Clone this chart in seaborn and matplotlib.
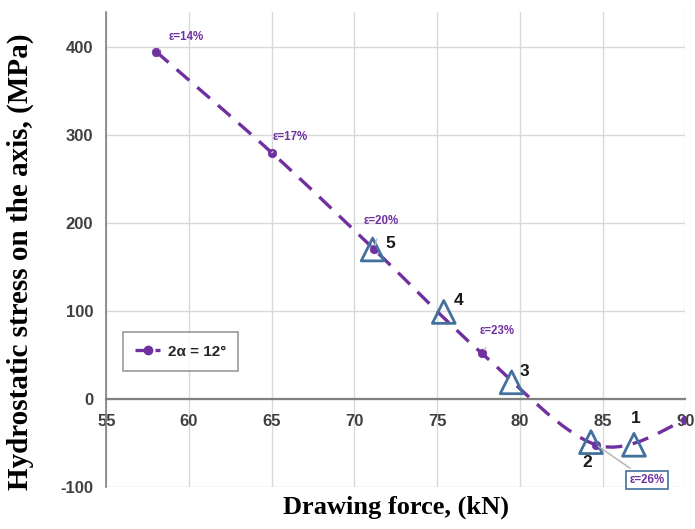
import numpy as np
import matplotlib
matplotlib.use("Agg")
import matplotlib.pyplot as plt
import seaborn as sns
import pandas as pd
from matplotlib.path import Path
from matplotlib.patches import PathPatch
from matplotlib.lines import Line2D

# ---- data ----
force = [58.0, 65.0, 71.2, 77.7, 84.6, 90.0]
stress = [395, 280, 170, 52, -52, -24]
eps_labels = ["ε=14%", "ε=17%", "ε=20%", "ε=23%", "ε=26%"]
eps_text_pos = [(59.8, 412), (66.1, 298), (71.6, 202), (78.6, 77), (87.7, -92)]

tri_force = [86.9, 84.3, 79.5, 75.4, 71.1]
tri_stress = [-52, -49, 19, 99, 170]
tri_labels = ["1", "2", "3", "4", "5"]
tri_text_pos = [(87.0, -22), (84.1, -72), (80.3, 31), (76.3, 112), (72.15, 177)]

xticks = [55, 60, 65, 70, 75, 80, 85, 90]
yticks = [-100, 0, 100, 200, 300, 400]

purple = "#7030a0"
blue = "#41719c"

sns.set_theme(style="white")
plt.rcParams['font.family'] = ['Liberation Sans', 'DejaVu Sans']
plt.rcParams['axes.unicode_minus'] = False

fig = plt.figure(figsize=(6.95, 5.29), dpi=100)
ax = fig.add_axes([0.153, 0.0794, 0.833, 0.898])

df = pd.DataFrame({"force": force, "stress": stress})
tdf = pd.DataFrame({"force": tri_force, "stress": tri_stress})

# smooth dashed curve (Catmull-Rom style Bezier through the data points)
P = np.column_stack([force, stress]).astype(float)
verts = [tuple(P[0])]
codes = [Path.MOVETO]
n = len(P)
for i in range(n - 1):
    p0 = P[i - 1] if i > 0 else P[i]
    p1 = P[i]
    p2 = P[i + 1]
    p3 = P[i + 2] if i + 2 < n else P[i + 1]
    c1 = p1 + (p2 - p0) / 6.0
    c2 = p2 - (p3 - p1) / 6.0
    verts += [tuple(c1), tuple(c2), tuple(p2)]
    codes += [Path.CURVE4] * 3
ax.add_patch(PathPatch(Path(verts, codes), facecolor="none", edgecolor=purple,
                       lw=2.4, linestyle=(0, (5, 3.2)), zorder=3))

sns.scatterplot(data=df, x="force", y="stress", ax=ax, color=purple, s=38,
                edgecolor=purple, zorder=4, legend=False)
sns.scatterplot(data=tdf, x="force", y="stress", ax=ax, marker="^", s=270,
                facecolor="none", edgecolor=blue, linewidth=2, zorder=5, legend=False)

# epsilon annotations
for i, (lab, (tx, ty)) in enumerate(zip(eps_labels, eps_text_pos)):
    if i == 4:
        ax.annotate(lab, xy=(force[i], stress[i]), xytext=(tx, ty), ha="center", va="center",
                    fontsize=8.3, fontweight="bold", color=purple,
                    bbox=dict(boxstyle="square,pad=0.3", fc="white", ec=blue, lw=1.2),
                    arrowprops=dict(arrowstyle="-", color="#b0b0b0", lw=1), zorder=6)
    else:
        ax.annotate(lab, xy=(force[i], stress[i]), xytext=(tx, ty), ha="center", va="center",
                    fontsize=8.3, fontweight="bold", color=purple,
                    arrowprops=dict(arrowstyle="-", color="#c0c0c0", lw=1,
                                    shrinkA=6, shrinkB=3), zorder=6)

for lab, (tx, ty) in zip(tri_labels, tri_text_pos):
    ax.text(tx, ty, lab, ha="center", va="center", fontsize=12.5, fontweight="bold",
            color="#1a1a1a", zorder=6)

ax.set_xlim(55, 90)
ax.set_ylim(-100, 440)
ax.set_xticks(xticks)
ax.set_yticks(yticks)
ax.grid(True, color="#d9d9d9", lw=1)
ax.set_axisbelow(True)

for s in ["top", "right"]:
    ax.spines[s].set_visible(False)
ax.spines["bottom"].set_position(("data", 0))
ax.spines["bottom"].set_color("#808080")
ax.spines["bottom"].set_linewidth(1.6)
ax.spines["left"].set_color("#808080")
ax.spines["left"].set_linewidth(1.2)

ax.tick_params(axis="x", length=0, pad=10.5, labelsize=12, labelcolor="#404040")
ax.tick_params(axis="y", length=0, pad=9.5, labelsize=12, labelcolor="#404040")
for t in ax.get_xticklabels() + ax.get_yticklabels():
    t.set_fontweight("bold")

ax.set_xlabel("Drawing force, (kN)", family=["Liberation Serif"], fontsize=19,
              fontweight="bold", color="black")
ax.set_ylabel("Hydrostatic stress on the axis, (MPa)", family=["Liberation Serif"],
              fontsize=21, fontweight="bold", color="black")
ax.xaxis.set_label_coords(0.5, -0.018)
ax.yaxis.set_label_coords(-0.125, 0.475)

handle = Line2D([0], [0], color=purple, lw=2.4, linestyle=(0, (4, 2)), marker="o",
                markersize=6, markerfacecolor=purple)
leg = ax.legend([handle], ["2α = 12°"], loc="center left", bbox_to_anchor=(0.016, 0.285),
                frameon=True, fancybox=False, edgecolor="#808080",
                handlelength=1.6, handletextpad=0.5, borderpad=0.8,
                prop={"weight": "bold", "size": 11})
leg.get_frame().set_linewidth(1.2)

fig.savefig("out.png", dpi=100)
